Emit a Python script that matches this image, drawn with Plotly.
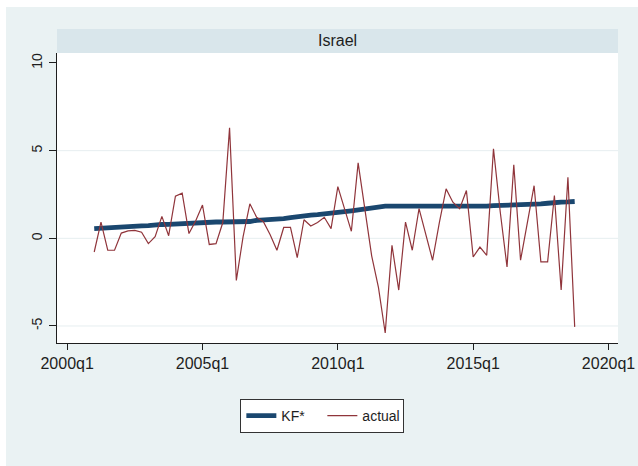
import plotly.graph_objects as go

# quarter index: 0 = 2000q1
start_index = 4  # 2001q1
years = list(range(2001, 2019))
quarters = [f"{y}q{q}" for y in years for q in (1, 2, 3, 4)]
qindex = list(range(start_index, start_index + len(quarters)))

actual = [
    -0.78, 0.93, -0.68, -0.68, 0.30, 0.42, 0.45, 0.35,
    -0.30, 0.10, 1.25, 0.15, 2.40, 2.58, 0.27, 1.00,
    1.90, -0.35, -0.30, 0.90, 6.30, -2.40, 0.10, 1.97,
    1.20, 0.95, 0.20, -0.68, 0.62, 0.62, -1.10, 1.06,
    0.70, 0.90, 1.20, 0.55, 2.95, 1.70, 0.40, 4.30,
    1.70, -1.00, -2.80, -5.40, -0.40, -2.95, 0.93, -0.68,
    1.69, 0.20, -1.25, 0.90, 2.82, 2.06, 1.69, 2.73,
    -1.06, -0.50, -0.97, 5.10, 1.50, -1.63, 4.19, -1.25,
    1.00, 3.00, -1.34, -1.34, 2.44, -2.95, 3.48, -5.05,
]

kf = [
    0.55, 0.58, 0.61, 0.64, 0.68, 0.70, 0.70, 0.71,
    0.72, 0.78, 0.79, 0.80, 0.82, 0.85, 0.90, 0.92,
    0.93, 0.93, 0.93, 0.93, 0.93, 0.93, 0.94, 0.96,
    1.03, 1.04, 1.06, 1.10, 1.12, 1.18, 1.24, 1.28,
    1.32, 1.35, 1.38, 1.41, 1.46, 1.52, 1.57, 1.62,
    1.67, 1.75, 1.82, 1.84, 1.84, 1.84, 1.84, 1.84,
    1.84, 1.84, 1.84, 1.78, 1.84, 1.84, 1.84, 1.84,
    1.84, 1.84, 1.84, 1.86, 1.87, 1.88, 1.88, 1.92,
    1.94, 1.95, 1.96, 2.00, 2.05, 2.07, 2.08, 2.10,
]

x_tickvals = [0, 20, 40, 60, 80]
x_ticktext = ["2000q1", "2005q1", "2010q1", "2015q1", "2020q1"]
y_tickvals = [-5, 0, 5, 10]
y_ticktext = ["-5", "0", "5", "10"]
grid_values = [-5, 0, 5]
panel_title = "Israel"

FONT = "Liberation Sans, Arial, sans-serif"
NAVY = "#1a476f"
MAROON = "#90353b"
BG = "#eaf2f3"
STRIP = "#d9e6eb"

fig = go.Figure()
fig.add_trace(go.Scatter(x=qindex, y=kf, mode="lines", name="KF*",
                         line=dict(color=NAVY, width=4.8), text=quarters))
fig.add_trace(go.Scatter(x=qindex, y=actual, mode="lines", name="actual",
                         line=dict(color=MAROON, width=1.2), text=quarters))

shapes = []
for g in grid_values:
    shapes.append(dict(type="line", xref="paper", x0=0, x1=1, yref="y", y0=g, y1=g,
                       line=dict(color="#e6eef0", width=1), layer="below"))
# strip header
shapes.append(dict(type="rect", xref="paper", yref="paper", x0=0, x1=1, y0=1.0, y1=1.0828,
                   fillcolor=STRIP, line=dict(width=0), layer="below"))
# white outer border (top/left)
shapes.append(dict(type="rect", xref="paper", yref="paper", x0=-0.2, x1=-0.0909, y0=-0.6, y1=1.3,
                   fillcolor="white", line=dict(width=0), layer="below"))
shapes.append(dict(type="rect", xref="paper", yref="paper", x0=-0.2, x1=1.2, y0=1.1586, y1=1.3,
                   fillcolor="white", line=dict(width=0), layer="below"))

fig.update_layout(
    width=638, height=466,
    margin=dict(l=57, r=20, t=53, b=123, autoexpand=False),
    paper_bgcolor=BG, plot_bgcolor="white",
    font=dict(family=FONT, color="#1e1e1e"),
    shapes=shapes,
    annotations=[dict(text=panel_title, xref="paper", yref="paper", x=0.5, y=1.0414,
                      xanchor="center", yanchor="middle", showarrow=False,
                      font=dict(size=16, family=FONT, color="#1e1e1e"))],
    xaxis=dict(range=[-1.5, 81.4], tickvals=x_tickvals, ticktext=x_ticktext,
               showgrid=False, zeroline=False, showline=True, linecolor="#1e1e1e", linewidth=1,
               ticks="outside", ticklen=6, tickcolor="#1e1e1e", automargin=False,
               tickfont=dict(size=16, family=FONT, color="#1e1e1e")),
    yaxis=dict(range=[-5.97, 10.57], tickvals=y_tickvals, ticktext=y_ticktext,
               showgrid=False, zeroline=False, showline=True, linecolor="#1e1e1e", linewidth=1,
               ticks="outside", ticklen=7, tickcolor="#1e1e1e", tickangle=-90,
               ticklabelstandoff=1, automargin=False,
               tickfont=dict(size=14, family=FONT, color="#1e1e1e")),
    legend=dict(orientation="h", x=0.473, xanchor="center", y=-0.193, yanchor="top",
                bgcolor="white", bordercolor="#333333", borderwidth=1,
                font=dict(size=14, family=FONT, color="#1e1e1e"),
                entrywidth=36, itemwidth=30, tracegroupgap=0),
    showlegend=True,
)

fig.write_html("out.html", config={"displayModeBar": False},
               post_script="document.body.style.margin='0';document.body.style.overflow='hidden';")
